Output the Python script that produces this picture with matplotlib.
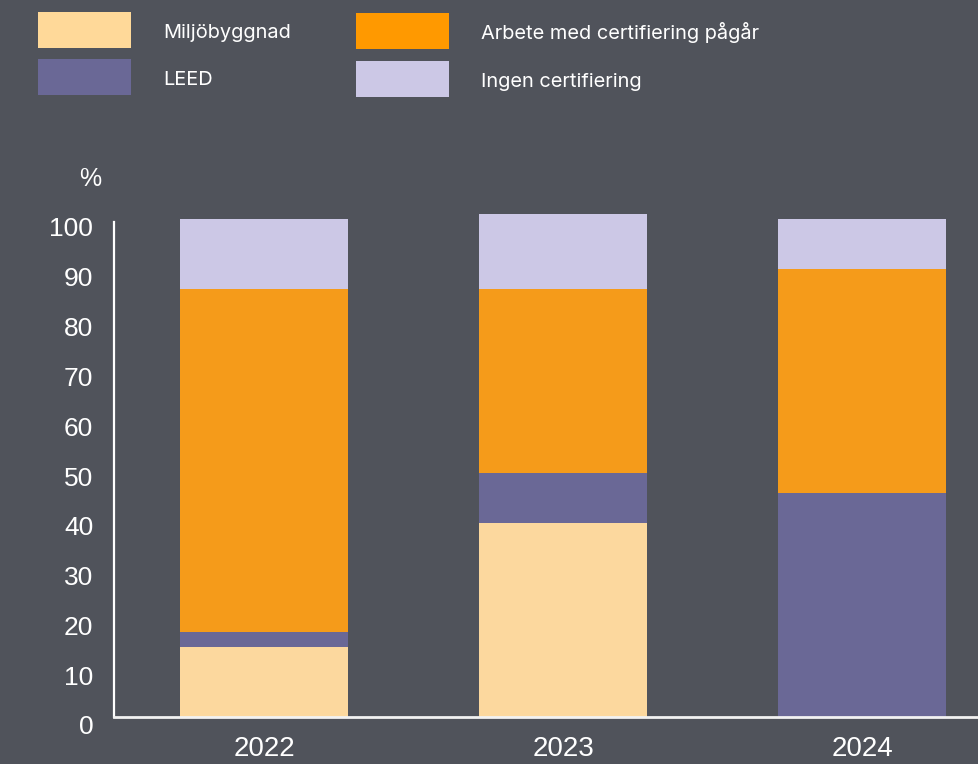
import matplotlib
matplotlib.use("Agg")
import matplotlib.pyplot as plt
from matplotlib.patches import Rectangle
from matplotlib.transforms import ScaledTranslation
import numpy as np

plt.rcParams['font.family'] = ['Liberation Sans', 'DejaVu Sans']

years = ["2022", "2023", "2024"]
series_names = ["Miljöbyggnad", "LEED", "Arbete med certifiering pågår", "Ingen certifiering"]
miljobyggnad = [14, 39, 0]
leed = [3, 10, 45]
arbete = [69, 37, 45]
ingen = [14, 15, 10]
yticks = [0, 10, 20, 30, 40, 50, 60, 70, 80, 90, 100]

bar_colors = ["#FCD89E", "#6A6896", "#F59B1A", "#CCC8E6"]
legend_colors = ["#FFD999", "#6A6896", "#FF9900", "#CCC8E6"]
bg = "#50535B"

W, H = 979, 764
fig = plt.figure(figsize=(W / 100, H / 100), dpi=100, facecolor=bg)
ax_left, ax_bottom = 114 / W, (H - 717) / H
ax_h = 102 * 4.98 / H
ax = fig.add_axes([ax_left, ax_bottom, 1 - ax_left, ax_h])
ax.set_facecolor(bg)

x = np.arange(len(years))
bottom = np.zeros(len(years))
for vals, c in zip([miljobyggnad, leed, arbete, ingen], bar_colors):
    ax.bar(x, vals, bottom=bottom, width=0.562, color=c, linewidth=0, zorder=2)
    bottom += np.array(vals)

ax.set_xlim(-0.502, 2.391)
ax.set_ylim(0, 102)
for s in ["top", "right"]:
    ax.spines[s].set_visible(False)
ax.spines["left"].set_color("white")
ax.spines["bottom"].set_color("#F2F2F2")
ax.spines["left"].set_linewidth(1.6)
ax.spines["bottom"].set_linewidth(2.0)
ax.spines["left"].set_bounds(0, 99.4)

ax.set_yticks(yticks)
ax.set_yticklabels([str(v) for v in yticks])
ax.set_xticks(x)
ax.set_xticklabels(years)
ax.tick_params(axis="y", length=0, pad=15, labelsize=19, labelcolor="white")
ax.tick_params(axis="x", length=0, pad=14, labelsize=20, labelcolor="white")
off = ScaledTranslation(0, -8 / 100, fig.dpi_scale_trans)
for lab in ax.get_yticklabels():
    lab.set_transform(lab.get_transform() + off)

fig.text(90 / W, 1 - 179 / H, "%", color="white", fontsize=18, ha="center", va="center")

# legend
leg_pos = [(38, 12), (38, 59), (356, 13), (356, 61)]
for (lx, ly), name, c in zip(leg_pos, series_names, legend_colors):
    fig.add_artist(Rectangle((lx / W, 1 - (ly + 36) / H), 93 / W, 36 / H,
                             transform=fig.transFigure, facecolor=c, edgecolor="none"))
    fig.text((lx + 125) / W, 1 - (ly + 26) / H, name, color="white", fontsize=14.4,
             family=["Inter", "DejaVu Sans"], ha="left", va="baseline")

fig.savefig("out.png", dpi=100, facecolor=bg)
